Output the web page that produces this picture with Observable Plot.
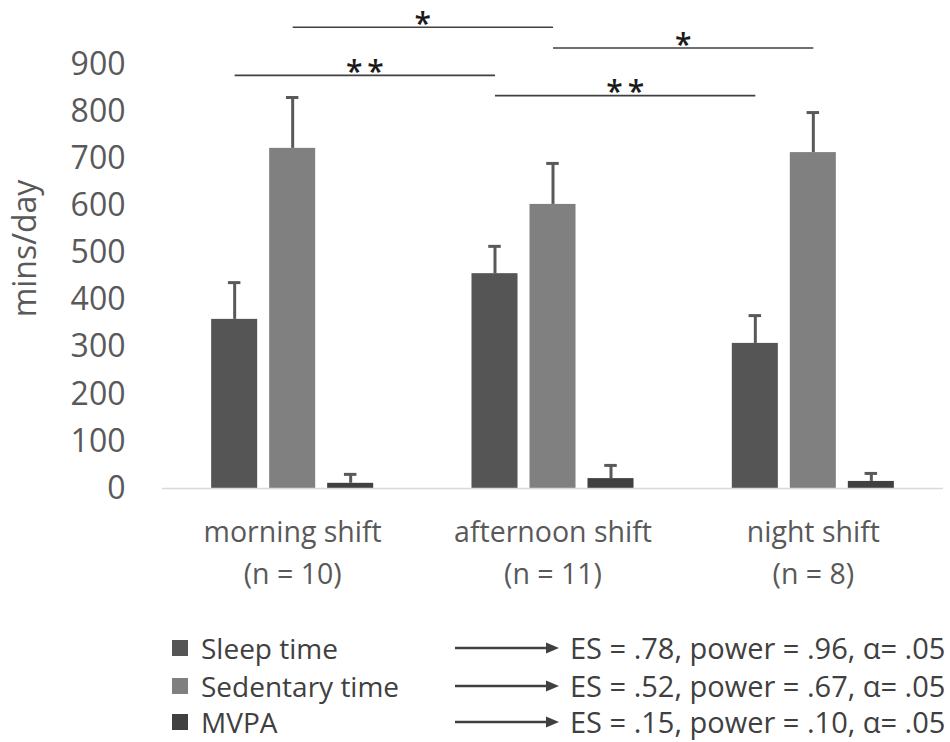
<!DOCTYPE html>
<html>
<head>
<meta charset="utf-8">
<script src="https://cdn.jsdelivr.net/npm/d3@7"></script>
<script src="https://cdn.jsdelivr.net/npm/@observablehq/plot@0.6"></script>
<style>
  html, body { margin: 0; padding: 0; background: #ffffff; }
  #wrap { width: 950px; height: 742px; position: relative; overflow: hidden; font-family: "Open Sans", sans-serif; }
  #legend { position: relative; width: 950px; height: 144px; font-size: 28px; color: #404040; }
  #legend .sw { position: absolute; width: 16px; height: 16px; }
  #legend .lbl { position: absolute; line-height: 36px; height: 36px; white-space: nowrap; }
  #legend svg { position: absolute; }
</style>
</head>
<body>
<div id="wrap">
  <div id="chart"></div>
  <div id="legend"></div>
</div>
<script>
// ---- data ----
const groups = ["morning shift", "afternoon shift", "night shift"];
const nLabels = ["(n = 10)", "(n = 11)", "(n = 8)"];
const series = ["Sleep time", "Sedentary time", "MVPA"];
const sleepMeans = [359, 456, 308];
const sleepErr = [78, 58, 59];
const sedentaryMeans = [722, 603, 713];
const sedentaryErr = [108, 87, 85];
const mvpaMeans = [11, 21, 15];
const mvpaErr = [19, 28, 17];
const yTicks = [0, 100, 200, 300, 400, 500, 600, 700, 800, 900];
const yLabel = "mins/day";
const bracketSeries = ["Sleep time", "Sedentary time", "Sleep time", "Sedentary time"];
const bracketFrom = [0, 0, 1, 1];
const bracketTo = [1, 1, 2, 2];
const bracketLevel = [877, 979, 834, 935];
const bracketLabel = ["*\u2009*", "*", "*\u2009*", "*"];
const esValues = [".78", ".52", ".15"];
const powerValues = [".96", ".67", ".10"];
const alphaValues = [".05", ".05", ".05"];
const colors = ["#555555", "#808080", "#404040"];

// ---- build tables ----
const meansBySeries = [sleepMeans, sedentaryMeans, mvpaMeans];
const errBySeries = [sleepErr, sedentaryErr, mvpaErr];
const SLOT = 0.2228, HALF = 0.0884, CAP = 0.024;
const center = (gi, si) => gi + 0.5 + (si - 1) * SLOT;

const rows = [];
groups.forEach((g, gi) => series.forEach((s, si) => {
  rows.push({gi, si, group: g, series: s, mean: meansBySeries[si][gi], err: errBySeries[si][gi]});
}));
const brackets = bracketSeries.map((s, i) => ({
  si: series.indexOf(s), from: bracketFrom[i], to: bracketTo[i], level: bracketLevel[i], label: bracketLabel[i]
}));
const groupRows = groups.map((g, gi) => ({gi, name: g, n: nLabels[gi]}));

const chart = Plot.plot({
  width: 950,
  height: 598,
  marginLeft: 162,
  marginRight: 7,
  marginTop: 64,
  marginBottom: 110,
  style: {fontFamily: "Open Sans, sans-serif", background: "transparent", color: "#595959", overflow: "visible"},
  x: {domain: [0, 3], axis: null},
  y: {domain: [0, 900]},
  color: {domain: series, range: colors},
  marks: [
    Plot.rectY(rows, {
      x1: d => center(d.gi, d.si) - HALF,
      x2: d => center(d.gi, d.si) + HALF,
      y1: 0, y2: "mean", fill: "series"
    }),
    Plot.ruleY([0], {stroke: "#d9d9d9", strokeWidth: 1.5}),
    Plot.ruleX(rows, {x: d => center(d.gi, d.si), y1: "mean", y2: d => d.mean + d.err, stroke: "#595959", strokeWidth: 3}),
    Plot.ruleY(rows, {
      x1: d => center(d.gi, d.si) - CAP, x2: d => center(d.gi, d.si) + CAP,
      y: d => d.mean + d.err, stroke: "#595959", strokeWidth: 3
    }),
    Plot.axisY({ticks: yTicks, tickSize: 0, tickPadding: 37, fontSize: 32, label: null, fill: "#595959"}),
    Plot.text(groupRows, {x: d => d.gi + 0.5, text: "name", frameAnchor: "bottom", dy: 53, fontSize: 28.5, fill: "#595959"}),
    Plot.text(groupRows, {x: d => d.gi + 0.5, text: "n", frameAnchor: "bottom", dy: 95, fontSize: 28.5, fill: "#595959"}),
    Plot.link(brackets, {
      x1: d => center(d.from, d.si), x2: d => center(d.to, d.si),
      y1: "level", y2: "level", stroke: "#404040", strokeWidth: 1.6
    }),
    Plot.text(brackets, {
      x: d => (center(d.from, d.si) + center(d.to, d.si)) / 2, y: "level", text: "label",
      dy: -3, fontSize: 30, fontWeight: 600, fill: "#1a1a1a"
    }),
    Plot.text([yLabel], {frameAnchor: "left", textAnchor: "middle", rotate: -90, dx: -137, dy: -28, fontSize: 32, fill: "#595959"})
  ]
});
document.getElementById("chart").appendChild(chart);

// ---- legend (below the svg) ----
const legend = document.getElementById("legend");
const rowCenters = [50, 88, 124];
series.forEach((s, i) => {
  const c = rowCenters[i];
  const sw = document.createElement("div");
  sw.className = "sw";
  sw.style.left = "172px"; sw.style.top = (c - 8) + "px"; sw.style.background = colors[i];
  legend.appendChild(sw);
  const lbl = document.createElement("div");
  lbl.className = "lbl";
  lbl.style.left = "201px"; lbl.style.top = (c - 18) + "px";
  lbl.textContent = s;
  legend.appendChild(lbl);
  const ns = "http://www.w3.org/2000/svg";
  const svg = document.createElementNS(ns, "svg");
  svg.setAttribute("width", "106"); svg.setAttribute("height", "14");
  svg.style.left = "455px"; svg.style.top = (c - 7) + "px";
  const line = document.createElementNS(ns, "line");
  line.setAttribute("x1", "0"); line.setAttribute("x2", "94"); line.setAttribute("y1", "7"); line.setAttribute("y2", "7");
  line.setAttribute("stroke", "#404040"); line.setAttribute("stroke-width", "2.5");
  svg.appendChild(line);
  const head = document.createElementNS(ns, "path");
  head.setAttribute("d", "M91,1.5 L104,7 L91,12.5 Z"); head.setAttribute("fill", "#404040");
  svg.appendChild(head);
  legend.appendChild(svg);
  const es = document.createElement("div");
  es.className = "lbl";
  es.style.left = "570px"; es.style.top = (c - 18) + "px"; es.style.fontSize = "29px";
  es.textContent = "ES = " + esValues[i] + ", power = " + powerValues[i] + ", \u03b1= " + alphaValues[i];
  legend.appendChild(es);
});
</script>
</body>
</html>
